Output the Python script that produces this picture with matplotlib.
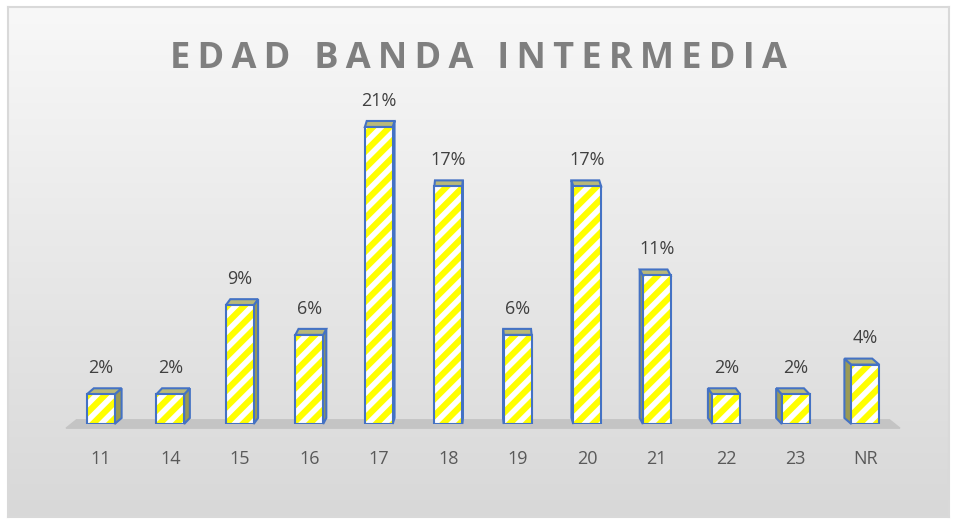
import numpy as np
import matplotlib.pyplot as plt
from matplotlib.patches import Polygon

plt.rcParams["font.family"] = ["Open Sans", "DejaVu Sans"]
plt.rcParams["hatch.linewidth"] = 4.5

categories = ["11", "14", "15", "16", "17", "18", "19", "20", "21", "22", "23", "NR"]
counts = [1, 1, 4, 3, 10, 8, 3, 8, 5, 1, 1, 2]
percent = [100 * c / sum(counts) for c in counts]
labels = ["%d%%" % round(p) for p in percent]
title = "EDAD BANDA INTERMEDIA"

W, H = 957, 525
fig = plt.figure(figsize=(W / 100, H / 100), dpi=100)
fig.patch.set_facecolor("white")

# background panel with soft vertical gradient
bg = fig.add_axes([8 / W, 8 / H, 941 / W, 510 / H])
grad = np.linspace(248, 216, 256).reshape(-1, 1) / 255
bg.imshow(np.dstack([grad, grad, grad]), aspect="auto", extent=[0, 1, 0, 1])
bg.set_xticks([])
bg.set_yticks([])
for s in bg.spines.values():
    s.set_color("#d9d9d9")
    s.set_linewidth(1.5)

ax = fig.add_axes([66 / W, 101 / H, 834 / W, 349 / H])
ax.set_facecolor("none")
x = np.arange(len(categories))
ax.set_xlim(-0.5, len(categories) - 0.5)
ax.set_ylim(0, 25)

# floor
ax.fill([-0.5, 11.5, 11.35, -0.35], [-0.3, -0.3, 0.3, 0.3], color="#c4c4c4", clip_on=False, zorder=1)

bw = 0.40
dy = 0.43
blue = "#4472c4"
for i, (xi, h) in enumerate(zip(x, percent)):
    dx = 0.1 - 0.2 * i / (len(x) - 1)
    x0, x1 = xi - bw / 2, xi + bw / 2
    xs = x1 if dx > 0 else x0
    side = Polygon([(xs, 0), (xs + dx, dy), (xs + dx, h + dy), (xs, h)],
                   facecolor="#9a9a55", edgecolor=blue, lw=1.5, zorder=3, clip_on=False)
    top = Polygon([(x0, h), (x1, h), (x1 + dx, h + dy), (x0 + dx, h + dy)],
                  facecolor="#b8b87a", edgecolor=blue, lw=1.5, zorder=3, clip_on=False)
    ax.add_patch(side)
    ax.add_patch(top)

ax.bar(x, percent, width=bw, color="white", edgecolor="#ffff00", hatch="//", linewidth=0, zorder=4)
ax.bar(x, percent, width=bw, fill=False, edgecolor=blue, linewidth=1.5, zorder=5)

for xi, h, lab in zip(x, percent, labels):
    ax.annotate(lab, (xi, h + dy), xytext=(0, 8), textcoords="offset points",
                ha="center", va="bottom", fontsize=13, color="#404040")

ax.set_xticks(x)
ax.set_xticklabels(categories, fontsize=13, color="#595959")
ax.tick_params(axis="x", length=0, pad=19)
ax.set_yticks([])
for s in ax.spines.values():
    s.set_visible(False)

spaced = "\u2009".join(title).replace("\u2009 \u2009", "\u2009\u2009 ")
fig.text(0.5, 1 - 59 / H, spaced, ha="center", va="center",
         fontsize=26, fontweight="bold", color="#7f7f7f")

fig.savefig("out.png", dpi=100)
